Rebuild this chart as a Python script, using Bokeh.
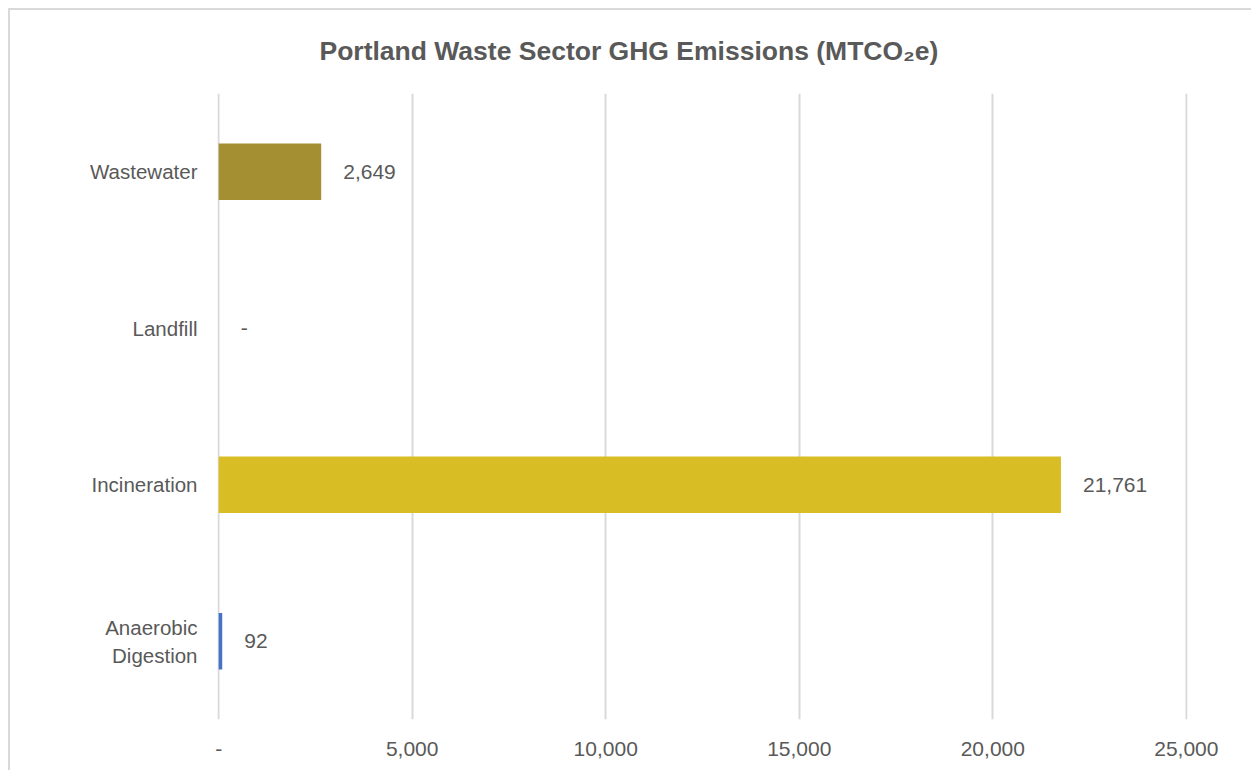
from bokeh.plotting import figure
from bokeh.models import ColumnDataSource, FixedTicker, NumeralTickFormatter, FactorRange, Title
from bokeh.core.properties import value
from bokeh.embed import file_html
from bokeh.resources import INLINE

# Data (bottom to top as drawn)
categories = ["Anaerobic\nDigestion", "Incineration", "Landfill", "Wastewater"]
emissions = [92, 21761, 0, 2649]
colors = ["#4472C4", "#D8BD24", "#A49032", "#A49032"]
x_ticks = [0, 5000, 10000, 15000, 20000, 25000]
title_text = "Portland Waste Sector GHG Emissions (MTCO\u2082e)"

labels = [f"{v:,}" if v else "-" for v in emissions]

src = ColumnDataSource(dict(cat=categories, val=emissions, color=colors, label=labels))

FONT = "Liberation Sans"
GRAY = "#595959"

p = figure(
    width=1243, height=762,
    y_range=FactorRange(factors=categories),
    x_range=(-30, 25030),
    output_backend="svg", toolbar_location=None,
    min_border_left=207, min_border_right=66, min_border_top=83, min_border_bottom=53,
    title=None,
)
p.styles = {"border-top": "2px solid #D9D9D9", "border-left": "2px solid #D9D9D9",
            "margin-left": "8px", "margin-top": "8px"}
p.outline_line_color = None

p.hbar(y="cat", right="val", left=0, height=0.36, fill_color="color", line_color=None, source=src)

p.text(x="val", y="cat", text="label", source=src, x_offset=22,
       text_font=value(FONT), text_font_size="21px", text_color=GRAY,
       text_baseline="middle", text_align="left")

# x axis
p.xaxis.ticker = FixedTicker(ticks=x_ticks)
p.xaxis.formatter = NumeralTickFormatter(format="0,0")
p.xaxis.major_label_overrides = {0: "-"}
p.xaxis.axis_line_color = None
p.xaxis.major_tick_line_color = None
p.xaxis.minor_tick_line_color = None
p.xaxis.major_label_text_font = FONT
p.xaxis.major_label_text_font_size = "21px"
p.xaxis.major_label_text_color = GRAY
p.xaxis.major_label_standoff = 16

# y axis
p.yaxis.axis_line_color = None
p.yaxis.major_tick_line_color = None
p.yaxis.minor_tick_line_color = None
p.yaxis.major_label_text_font = FONT
p.yaxis.major_label_text_font_size = "20.5px"
p.yaxis.major_label_text_color = GRAY
p.yaxis.major_label_standoff = 14

p.xgrid.grid_line_color = "#D9D9D9"
p.xgrid.grid_line_width = 2
p.xgrid.ticker = FixedTicker(ticks=x_ticks)
p.ygrid.grid_line_color = None

title = Title(text=title_text, align="left", offset=102, standoff=51, vertical_align="top",
              text_font=FONT, text_font_size="26.5px", text_font_style="bold",
              text_color=GRAY)
p.add_layout(title, "above")

open("out.html", "w").write(file_html(p, INLINE))
